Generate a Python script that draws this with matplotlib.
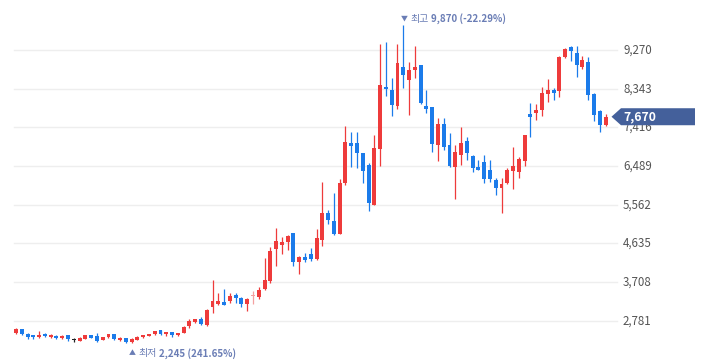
import numpy as np
import matplotlib
matplotlib.use('Agg')
import matplotlib.pyplot as plt
from matplotlib.patches import Polygon
from matplotlib.transforms import offset_copy

plt.rcParams['font.family'] = ['Noto Sans CJK KR', 'DejaVu Sans']

# 일봉 시세 (시가 / 고가 / 저가 / 종가)
opens = [2479, 2575, 2455, 2431, 2383, 2462, 2383, 2421, 2359, 2431,
         2318, 2302, 2350, 2438, 2421, 2318, 2390, 2462, 2318, 2359,
         2263, 2318, 2383, 2414, 2455, 2551, 2455, 2510, 2431, 2493,
         2661, 2750, 2829, 2685, 3117, 3189, 3230, 3261, 3405, 3325,
         3189, 3381, 3342, 3534, 3740, 4500, 4596, 4675, 4891, 4188,
         4308, 4380, 4260, 4716, 5363, 5171, 4860, 6089, 7034, 7034,
         6794, 6513, 5555, 6897, 8376, 8311, 7928, 8855, 8551, 8798,
         8910, 7928, 7911, 6993, 7496, 6993, 6466, 6741, 7089, 6729,
         6457, 6585, 6393, 6154, 5955, 6089, 6370, 6338, 6609, 7736,
         7753, 7832, 8215, 8311, 8294, 9110, 9350, 9206, 8856, 8990,
         8215, 7808, 7472]
highs = [2599, 2582, 2493, 2438, 2527, 2479, 2455, 2431, 2431, 2438,
         2359, 2383, 2438, 2445, 2479, 2390, 2469, 2469, 2397, 2373,
         2359, 2407, 2445, 2469, 2534, 2565, 2517, 2517, 2493, 2654,
         2814, 2829, 2870, 3055, 3757, 3438, 3548, 3438, 3445, 3357,
         3318, 3493, 3582, 4277, 4541, 4996, 4788, 4828, 4891, 4339,
         4397, 4517, 4972, 6099, 5435, 5842, 6178, 7448, 7297, 7297,
         6794, 6554, 7225, 9414, 9455, 8592, 9414, 9870, 8990, 9358,
         8910, 8311, 7911, 7640, 7640, 7273, 6993, 7431, 7185, 6753,
         6633, 6753, 6633, 6209, 6195, 6434, 6952, 6713, 7233, 7988,
         7964, 8390, 8568, 8359, 9126, 9311, 9374, 9374, 9126, 9098,
         8247, 7832, 7729]
lows = [2455, 2438, 2342, 2350, 2359, 2383, 2366, 2350, 2335, 2287,
        2270, 2287, 2342, 2359, 2278, 2311, 2373, 2326, 2294, 2254,
        2245, 2311, 2373, 2407, 2445, 2438, 2421, 2397, 2414, 2479,
        2599, 2733, 2685, 2654, 2973, 3158, 3165, 3198, 3213, 3103,
        3021, 3174, 3309, 3517, 3692, 4092, 4387, 4469, 4100, 3908,
        4196, 4212, 4236, 4565, 5106, 4836, 4860, 6027, 6473, 6434,
        6075, 5418, 5555, 6497, 8175, 7695, 7863, 8352, 7712, 8592,
        7976, 7753, 6832, 6609, 6873, 6466, 5691, 6513, 6633, 6354,
        6393, 6075, 6114, 5794, 5370, 6058, 5938, 6209, 6489, 7192,
        7592, 7681, 8024, 8060, 8136, 9086, 9006, 8616, 8809, 8071,
        7578, 7311, 7455]
closes = [2582, 2455, 2397, 2383, 2438, 2407, 2438, 2366, 2421, 2335,
          2318, 2373, 2431, 2373, 2302, 2383, 2462, 2350, 2373, 2278,
          2342, 2397, 2438, 2462, 2527, 2469, 2510, 2445, 2486, 2630,
          2774, 2822, 2702, 3038, 3254, 3254, 3165, 3373, 3333, 3189,
          3294, 3381, 3517, 3757, 4452, 4692, 4668, 4812, 4196, 4308,
          4236, 4260, 4771, 5370, 5195, 4860, 6089, 7058, 6976, 6794,
          6377, 5595, 6914, 8424, 8328, 7952, 8966, 8678, 8791, 8862,
          7992, 7863, 7017, 7496, 6953, 6490, 6813, 7041, 6808, 6449,
          6393, 6171, 6171, 5955, 6058, 6394, 6490, 6657, 7233, 7671,
          7832, 8232, 8311, 8247, 9110, 9294, 9254, 8918, 9031, 8191,
          7712, 7472, 7670]

yticks = [2781, 3708, 4635, 5562, 6489, 7416, 8343, 9270]
high_text = ('▼', '최고', '9,870 (-22.29%)')
low_text = ('▲', '최저', '2,245 (241.65%)')
last_price = '7,670'

W, H = 710, 362
RED = '#EE3B3B'
BLUE = '#1B7BEA'
ANNO = '#6A7DB5'

fig = plt.figure(figsize=(W / 100, H / 100), dpi=100)
ax = fig.add_axes([0, 0, 1, 1])
ax.set_axis_off()

x0, dx = 16, 5.78          # 첫 봉 위치, 봉 간격 (px)
ax.set_xlim(-x0 / dx, (W - x0) / dx)
ax.set_ylim(1791, 10468)

# 가로 그리드 + 가격 눈금
for t in yticks:
    ax.axhline(t, xmin=14 / W, xmax=617 / W, color='#EEEEEE', lw=1.0, zorder=0)
    ax.text(623 / W, t, f'{t:,}', transform=ax.get_yaxis_transform(),
            ha='left', va='center', fontsize=8.3, color='#555555', zorder=1)

# 캔들
o = np.array(opens); h = np.array(highs); l = np.array(lows); c = np.array(closes)
x = np.arange(len(o))
prev = np.r_[o[0], c[:-1]]
colors = []
for i in range(len(o)):
    if c[i] > o[i]:
        colors.append(RED)
    elif c[i] < o[i]:
        colors.append(BLUE)
    else:
        colors.append('#F4A0A0' if c[i] > prev[i] else '#222222')

ax.vlines(x, l, h, colors=colors, lw=0.9, zorder=2)
bottom = np.minimum(o, c)
height = np.maximum(np.abs(c - o), 22)
ax.bar(x, height, bottom=bottom, width=0.68, color=colors, lw=0, zorder=3)


# 최고 / 최저 표시 (조각별로 이어 붙임)
def label_chain(xv, yv, dy, parts):
    renderer = fig.canvas.get_renderer()
    tr = offset_copy(ax.transData, fig=fig, x=-2.0, y=dy, units='points')
    specs = [(parts[0], 5.0, 'normal', 2.5),
             (parts[1], 7.2, 'normal', 2.5),
             (parts[2], 7.0, 'bold', 0)]
    shift = 0.0
    for s, fs, fw, gap in specs:
        t = ax.text(xv, yv, s, fontsize=fs, fontweight=fw, color=ANNO,
                    ha='left', va='center',
                    transform=offset_copy(tr, fig=fig, x=shift, y=0, units='dots'))
        bb = t.get_window_extent(renderer)
        shift += bb.width + gap


hi = int(np.argmax(h)); lo = int(np.argmin(l))
label_chain(hi, h[hi], 4.3, high_text)
label_chain(lo, l[lo], -7.3, low_text)

# 현재가 라벨
ylo, yhi = ax.get_ylim()
yc = (c[-1] - ylo) / (yhi - ylo)
hh = 8.5 / H
pts = [(611.5 / W, yc), (621 / W, yc + hh), (695 / W, yc + hh),
       (695 / W, yc - hh), (621 / W, yc - hh)]
ax.add_patch(Polygon(pts, closed=True, transform=ax.transAxes,
                     facecolor='#44609B', edgecolor='none', zorder=5))
ax.text(623 / W, yc, last_price, transform=ax.transAxes, ha='left', va='center',
        fontsize=8.8, color='white', fontweight='bold', zorder=6)

fig.savefig('out.png', dpi=100)
